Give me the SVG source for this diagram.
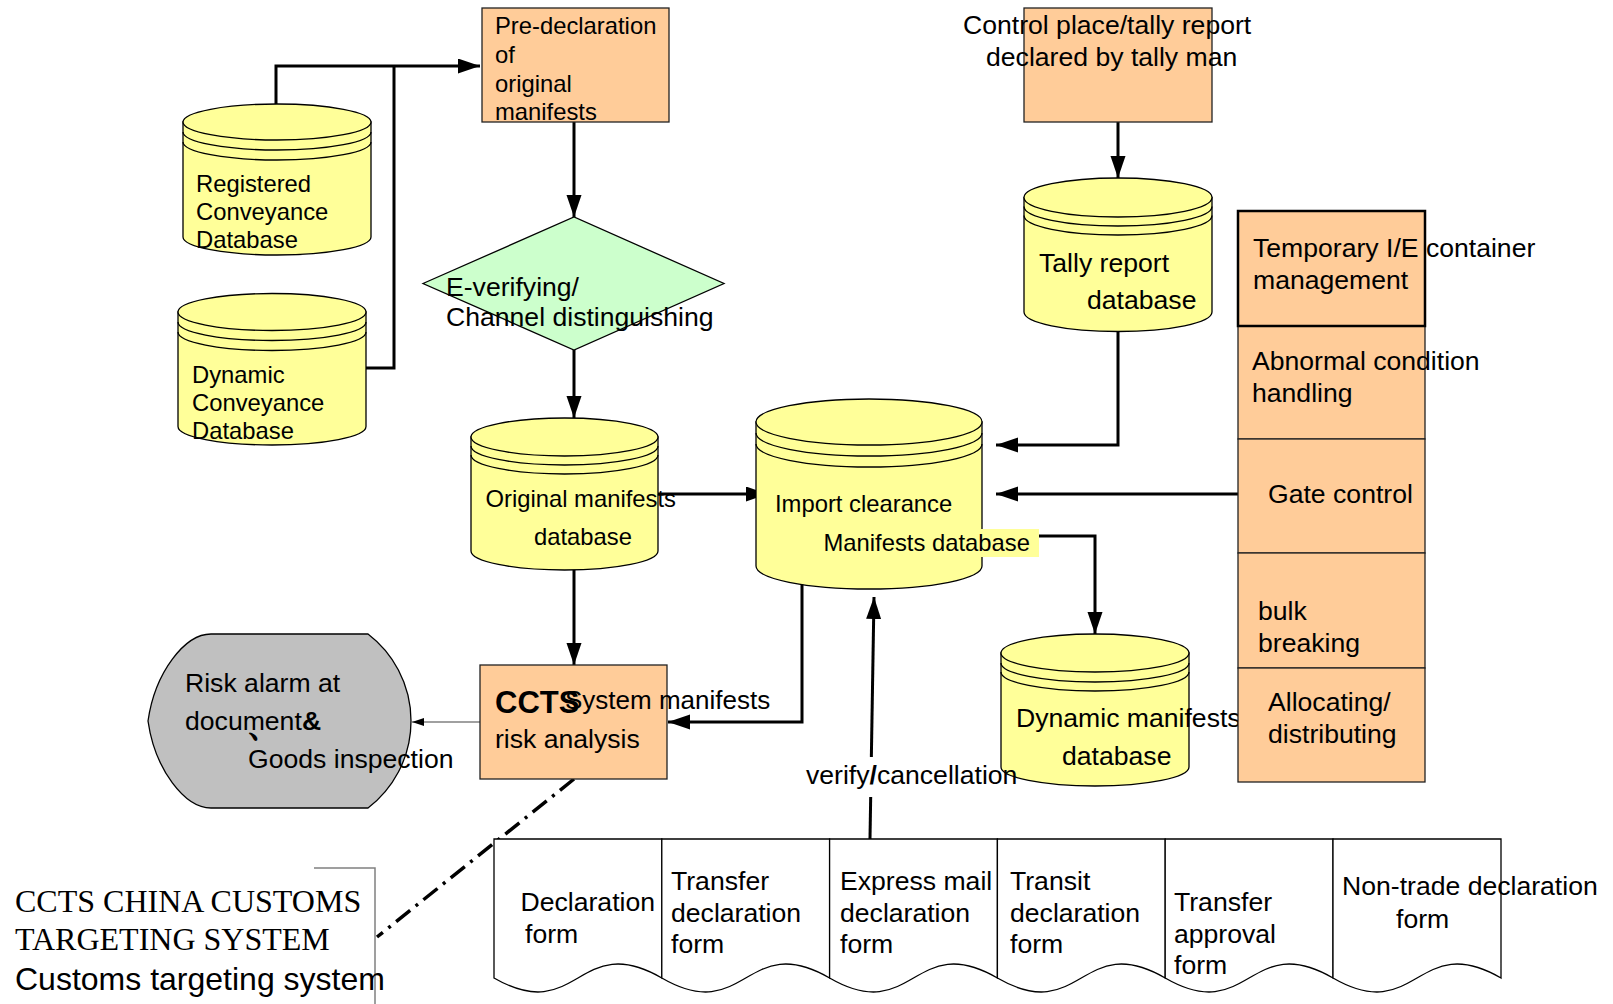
<svg xmlns="http://www.w3.org/2000/svg" width="1613" height="1004" viewBox="0 0 1613 1004">
<style>
 text{font-family:"Liberation Sans",Arial,sans-serif;fill:#000}
 .t27{font-size:26.6px}
 .t24{font-size:23.8px}
 .serif{font-family:"Liberation Serif","Times New Roman",serif;font-size:32px}
 .box{fill:#FFCC99;stroke:#222;stroke-width:1.3}
 .cyl{fill:#FFFF99;stroke:#000;stroke-width:1.3}
 .ln{fill:none;stroke:#000;stroke-width:1.3}
 .con{fill:none;stroke:#000;stroke-width:3}
 .form{fill:#fff;stroke:#000;stroke-width:1.3}
</style>
<defs>
 <marker id="ah" markerUnits="userSpaceOnUse" markerWidth="23" markerHeight="16" refX="22" refY="7.5" orient="auto"><path d="M0,0 L22,7.5 L0,15 Z" fill="#000"/></marker>
 <marker id="ahs" markerUnits="userSpaceOnUse" markerWidth="13" markerHeight="9" refX="12" refY="4" orient="auto"><path d="M0,0 L12,4 L0,8 Z" fill="#000"/></marker>
</defs>
<rect x="0" y="0" width="1613" height="1004" fill="#fff"/>

<g id="connectors">
 <path class="con" d="M276,104 L276,66 L480,66" marker-end="url(#ah)"/>
 <path class="con" d="M366,368 L394,368 L394,66"/>
 <path class="con" d="M574,122 L574,217" marker-end="url(#ah)"/>
 <path class="con" d="M574,350 L574,418" marker-end="url(#ah)"/>
 <path class="con" d="M658,494 L768,494" marker-end="url(#ah)"/>
 <path class="con" d="M574,570 L574,665" marker-end="url(#ah)"/>
 <path class="con" d="M1118,122 L1118,178" marker-end="url(#ah)"/>
 <path class="con" d="M1118,331 L1118,445 L996,445" marker-end="url(#ah)"/>
 <path class="con" d="M1238,494 L996,494" marker-end="url(#ah)"/>
 <path class="con" d="M1039,536 L1095,536 L1095,634" marker-end="url(#ah)"/>
 <path class="con" d="M802,582 L802,722 L668,722" marker-end="url(#ah)"/>
 <path d="M480,722 L412,722" fill="none" stroke="#808080" stroke-width="1.5" marker-end="url(#ahs)"/>
 <path class="con" d="M870,839 L874,597" marker-end="url(#ah)"/>
 <path d="M574,779 L377,937" fill="none" stroke="#000" stroke-width="3.5" stroke-dasharray="18 7 3 7"/>
 <path d="M314,868 L375,868 L375,1004" fill="none" stroke="#808080" stroke-width="1.5"/>
</g>

<g id="pre-declaration">
 <rect class="box" x="482" y="8" width="187" height="114"/>
 <text class="t24" x="495" y="34">Pre-declaration</text>
 <text class="t24" x="495" y="63">of</text>
 <text class="t24" x="495" y="92">original</text>
 <text class="t24" x="495" y="120">manifests</text>
</g>

<g id="registered-conveyance-db">
 <path class="cyl" d="M183,122 L183,237 A94,18 0 0 0 371,237 L371,122 Z"/>
 <ellipse class="cyl" cx="277" cy="122" rx="94" ry="18"/>
 <path class="ln" d="M183,132 A94,18 0 0 0 371,132 M183,142 A94,18 0 0 0 371,142"/>
 <text class="t24" x="196" y="192">Registered</text>
 <text class="t24" x="196" y="220">Conveyance</text>
 <text class="t24" x="196" y="248">Database</text>
</g>

<g id="dynamic-conveyance-db">
 <path class="cyl" d="M178,312 L178,426.5 A94,18.5 0 0 0 366,426.5 L366,312 Z"/>
 <ellipse class="cyl" cx="272" cy="312" rx="94" ry="18.5"/>
 <path class="ln" d="M178,322 A94,18.5 0 0 0 366,322 M178,332 A94,18.5 0 0 0 366,332"/>
 <text class="t24" x="192" y="383">Dynamic</text>
 <text class="t24" x="192" y="411">Conveyance</text>
 <text class="t24" x="192" y="439">Database</text>
</g>

<g id="e-verifying">
 <polygon points="423,283.5 574,217 724,283.5 574,350" fill="#CCFFCC" stroke="#000" stroke-width="1.3"/>
 <text class="t27" x="446" y="296">E-verifying/</text>
 <text class="t27" x="446" y="326">Channel distinguishing</text>
</g>

<g id="original-manifests-db">
 <path class="cyl" d="M471,437 L471,551 A93.5,19 0 0 0 658,551 L658,437 Z"/>
 <ellipse class="cyl" cx="564.5" cy="437" rx="93.5" ry="19"/>
 <path class="ln" d="M471,446 A93.5,19 0 0 0 658,446 M471,455 A93.5,19 0 0 0 658,455"/>
 <text class="t24" x="485.5" y="507">Original manifests</text>
 <text class="t24" x="534" y="545">database</text>
</g>

<g id="import-clearance-db">
 <path class="cyl" d="M756,422 L756,566 A113,23 0 0 0 982,566 L982,422 Z"/>
 <ellipse class="cyl" cx="869" cy="422" rx="113" ry="23"/>
 <path class="ln" d="M756,433 A113,23 0 0 0 982,433 M756,444 A113,23 0 0 0 982,444"/>
 <text class="t24" x="775" y="512">Import clearance</text>
 <rect x="820" y="529" width="219" height="28" fill="#FFFF99"/>
 <text class="t24" x="823.5" y="551">Manifests database</text>
</g>

<g id="control-place">
 <rect class="box" x="1024" y="8" width="188" height="114"/>
 <text class="t27" x="963" y="34">Control place/tally report</text>
 <text class="t27" x="986" y="66">declared by tally man</text>
</g>

<g id="tally-report-db">
 <path class="cyl" d="M1024,197.5 L1024,312 A94,19.5 0 0 0 1212,312 L1212,197.5 Z"/>
 <ellipse class="cyl" cx="1118" cy="197.5" rx="94" ry="19.5"/>
 <path class="ln" d="M1024,206.5 A94,19.5 0 0 0 1212,206.5 M1024,215.5 A94,19.5 0 0 0 1212,215.5"/>
 <text class="t27" x="1039" y="272">Tally report</text>
 <text class="t27" x="1087" y="309">database</text>
</g>

<g id="dynamic-manifests-db">
 <path class="cyl" d="M1001,653 L1001,767 A94,19 0 0 0 1189,767 L1189,653 Z"/>
 <ellipse class="cyl" cx="1095" cy="653" rx="94" ry="19"/>
 <path class="ln" d="M1001,663 A94,19 0 0 0 1189,663 M1001,672 A94,19 0 0 0 1189,672"/>
 <text class="t27" x="1016" y="727">Dynamic manifests</text>
 <text class="t27" x="1062" y="765">database</text>
</g>

<g id="abnormal-condition">
 <rect class="box" x="1238" y="326" width="187" height="113"/>
 <text class="t27" x="1252" y="370">Abnormal condition</text>
 <text class="t27" x="1252" y="402">handling</text>
</g>
<g id="gate-control">
 <rect class="box" x="1238" y="439" width="187" height="114"/>
 <text class="t27" x="1268" y="503">Gate control</text>
</g>
<g id="bulk-breaking">
 <rect class="box" x="1238" y="553" width="187" height="115"/>
 <text class="t27" x="1258" y="620">bulk</text>
 <text class="t27" x="1258" y="652">breaking</text>
</g>
<g id="allocating">
 <rect class="box" x="1238" y="668" width="187" height="114"/>
 <text class="t27" x="1268" y="711">Allocating/</text>
 <text class="t27" x="1268" y="743">distributing</text>
</g>
<g id="temporary-container">
 <rect x="1238" y="211" width="187" height="115" fill="#FFCC99" stroke="#000" stroke-width="2.5"/>
 <text class="t27" x="1253" y="257">Temporary I/E container</text>
 <text class="t27" x="1253" y="289">management</text>
</g>

<g id="ccts-risk-analysis">
 <rect class="box" x="480" y="665" width="187" height="114"/>
 <text x="495" y="713" font-size="31" font-weight="bold">CCTS</text>
 <text x="565" y="709" font-size="26">System manifests</text>
 <text class="t27" x="495" y="748">risk analysis</text>
</g>

<g id="risk-alarm">
 <path d="M211,634 L368,634 A109.5,109.5 0 0 1 368,808 L211,808 C185,808 155,770 148,721 C155,672 185,634 211,634 Z" fill="#C0C0C0" stroke="#000" stroke-width="1.3"/>
 <text class="t27" x="185" y="692">Risk alarm at</text>
 <text class="t27" x="185" y="730">document<tspan x="302" font-weight="bold">&amp;</tspan></text>
 <text x="246" y="736" font-size="36" font-weight="bold" font-family="'Noto Sans CJK SC',sans-serif">、</text>
 <text class="t27" x="248" y="768">Goods inspection</text>
</g>

<g id="verify-label">
 <rect x="861" y="757" width="20" height="40" fill="#fff"/>
 <text class="t27" x="806" y="784">verify<tspan font-weight="bold">/</tspan>cancellation</text>
</g>

<g id="forms">
 <path class="form" d="M494,839 L494,978 C578,1026.5 578,929.5 661.8,978 L661.8,839 Z"/>
 <path class="form" d="M661.8,839 L661.8,978 C745.7,1026.5 745.7,929.5 829.6,978 L829.6,839 Z"/>
 <path class="form" d="M829.6,839 L829.6,978 C913.5,1026.5 913.5,929.5 997.4,978 L997.4,839 Z"/>
 <path class="form" d="M997.4,839 L997.4,978 C1081.3,1026.5 1081.3,929.5 1165.2,978 L1165.2,839 Z"/>
 <path class="form" d="M1165.2,839 L1165.2,978 C1249.1,1026.5 1249.1,929.5 1333,978 L1333,839 Z"/>
 <path class="form" d="M1333,839 L1333,978 C1417,1026.5 1417,929.5 1501,978 L1501,839 Z"/>
 <text class="t27" x="520.5" y="911">Declaration</text>
 <text class="t27" x="525" y="943">form</text>
 <text class="t27" x="671" y="890">Transfer</text>
 <text class="t27" x="671" y="922">declaration</text>
 <text class="t27" x="671" y="953">form</text>
 <text class="t27" x="840" y="890">Express mail</text>
 <text class="t27" x="840" y="922">declaration</text>
 <text class="t27" x="840" y="953">form</text>
 <text class="t27" x="1010" y="890">Transit</text>
 <text class="t27" x="1010" y="922">declaration</text>
 <text class="t27" x="1010" y="953">form</text>
 <text class="t27" x="1174" y="911">Transfer</text>
 <text class="t27" x="1174" y="943">approval</text>
 <text class="t27" x="1174" y="974">form</text>
 <text class="t27" x="1342" y="895">Non-trade declaration</text>
 <text class="t27" x="1396" y="928">form</text>
</g>

<g id="ccts-legend">
 <text class="serif" x="15" y="912">CCTS CHINA CUSTOMS</text>
 <text class="serif" x="15" y="950">TARGETING SYSTEM</text>
 <text x="15" y="990" font-size="32">Customs targeting system</text>
</g>
</svg>
